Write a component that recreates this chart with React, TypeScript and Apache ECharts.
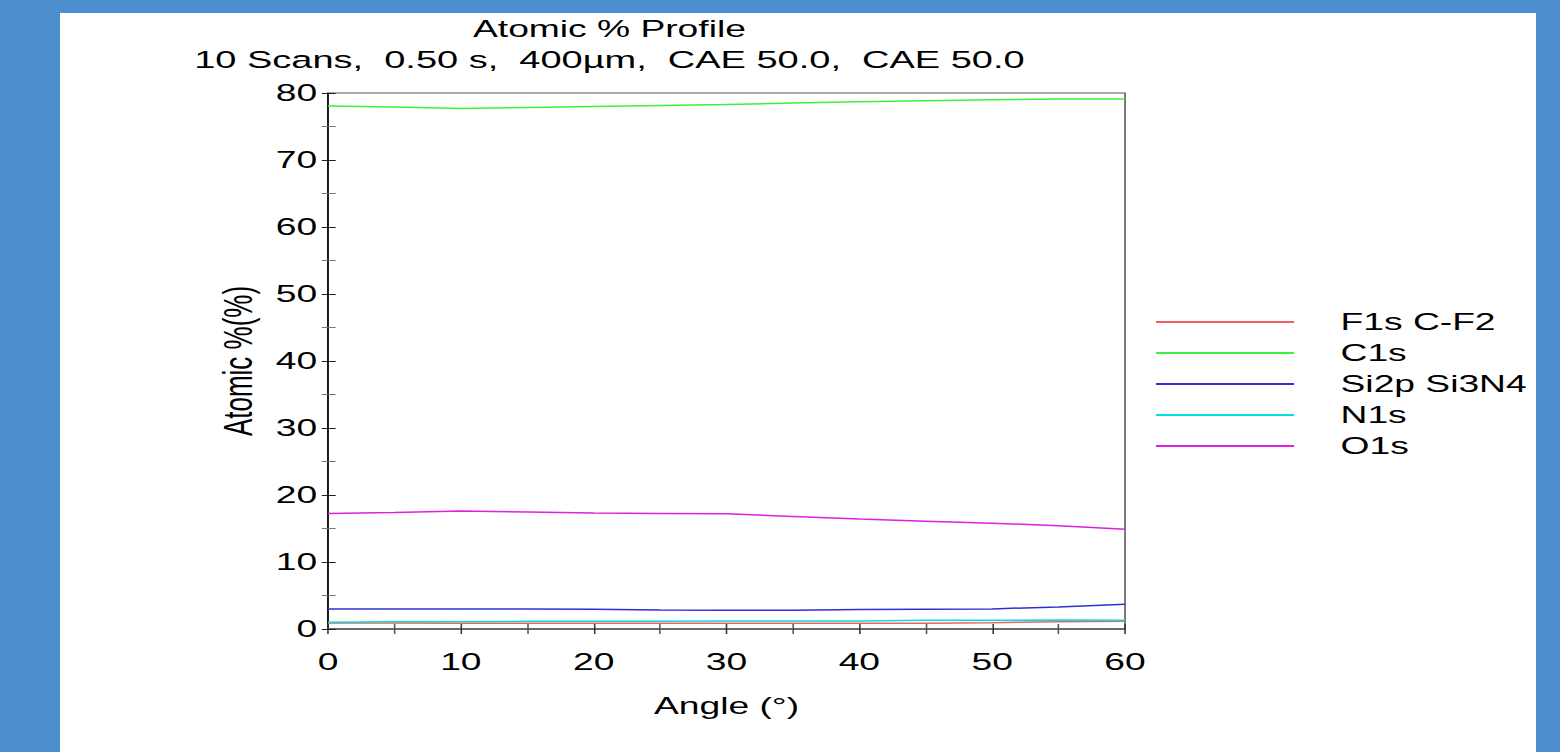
import React, { useEffect, useRef } from "react";
import * as echarts from "echarts";

const angles = [0, 5, 10, 15, 20, 25, 30, 35, 40, 45, 50, 55, 60];
const f1s = [0.9, 0.9, 0.85, 0.85, 0.85, 0.85, 0.85, 0.85, 0.85, 0.85, 0.95, 1.1, 1.15];
const c1s = [78.05, 77.9, 77.7, 77.85, 78.0, 78.15, 78.3, 78.5, 78.7, 78.85, 79.0, 79.1, 79.1];
const si2p = [3.0, 3.0, 3.0, 3.0, 2.95, 2.85, 2.8, 2.8, 2.9, 2.95, 3.0, 3.3, 3.7];
const n1s = [1.0, 1.1, 1.1, 1.15, 1.15, 1.15, 1.2, 1.2, 1.2, 1.3, 1.3, 1.35, 1.3];
const o1s = [17.25, 17.4, 17.6, 17.45, 17.3, 17.25, 17.2, 16.8, 16.4, 16.1, 15.8, 15.4, 14.9];

const seriesNames = ["F1s C-F2", "C1s", "Si2p Si3N4", "N1s", "O1s"];
const seriesValues = [f1s, c1s, si2p, n1s, o1s];
const seriesColors = ["#f06060", "#3cf03c", "#3030d0", "#00e0e0", "#e020e0"];

const titleText = "Atomic % Profile";
const subtitleText = "10 Scans,  0.50 s,  400µm,  CAE 50.0,  CAE 50.0";
const xName = "Angle (°)";
const yName = "Atomic %(%)";

const W = 1006;
const S = 1560 / W;
const FONT = "'Liberation Sans', Arial, sans-serif";

export default function App() {
  const ref = useRef<HTMLDivElement>(null);
  useEffect(() => {
    if (!ref.current) return;
    const chart = echarts.init(ref.current, undefined, { renderer: "svg" });
    const gridPos = { left: 211.5, right: 280.5, top: 93, bottom: 123 };
    const option: any = {
      animation: false,
      textStyle: { fontFamily: FONT, color: "#000" },
      title: [
        {
          text: titleText,
          left: 388,
          top: 12,
          textAlign: "center",
          textStyle: { fontFamily: FONT, fontSize: 24, fontWeight: "normal", color: "#000" },
        },
        {
          text: subtitleText,
          left: 388,
          top: 42,
          textAlign: "center",
          textStyle: { fontFamily: FONT, fontSize: 24.5, fontWeight: "normal", color: "#000" },
        },
      ],
      legend: {
        orient: "vertical",
        left: 739.5,
        top: 305,
        itemWidth: 89,
        itemHeight: 24,
        itemGap: 7,
        data: seriesNames,
        itemStyle: { opacity: 0 },
        textStyle: { fontFamily: FONT, fontSize: 24, color: "#000", padding: [0, 0, 0, 25] },
      },
      grid: [
        { ...gridPos, show: true, borderColor: "#555", borderWidth: 1, backgroundColor: "transparent" },
        { ...gridPos, show: false },
      ],
      xAxis: [
        {
          type: "value",
          gridIndex: 0,
          min: 0,
          max: 60,
          interval: 10,
          name: xName,
          nameLocation: "middle",
          nameGap: 65,
          nameTextStyle: { fontFamily: FONT, fontSize: 24, color: "#000" },
          axisLine: { show: true, lineStyle: { color: "#555", width: 1.5 } },
          axisTick: { show: true, inside: false, length: 5, lineStyle: { color: "#333" } },
          minorTick: { show: true, splitNumber: 2, length: 5, lineStyle: { color: "#555" } },
          axisLabel: { fontFamily: FONT, fontSize: 24, color: "#000", margin: 21 },
          splitLine: { show: false },
        },
        {
          type: "value",
          gridIndex: 1,
          min: 0,
          max: 60,
          interval: 10,
          axisLine: { show: false },
          axisTick: { show: true, inside: true, length: 5, lineStyle: { color: "#333" } },
          minorTick: { show: true, splitNumber: 2, length: 5, lineStyle: { color: "#555" } },
          axisLabel: { show: false },
          splitLine: { show: false },
        },
      ],
      yAxis: [
        {
          type: "value",
          gridIndex: 0,
          min: 0,
          max: 80,
          interval: 10,
          name: yName,
          nameLocation: "middle",
          nameGap: 45,
          nameTextStyle: { fontFamily: FONT, fontSize: 26, color: "#000" },
          axisLine: { show: true, lineStyle: { color: "#000", width: 1 } },
          axisTick: { show: true, inside: false, length: 4, lineStyle: { color: "#222" } },
          minorTick: { show: true, splitNumber: 2, length: 4, lineStyle: { color: "#777" } },
          axisLabel: { fontFamily: FONT, fontSize: 24, color: "#000", margin: 7 },
          splitLine: { show: false },
        },
        {
          type: "value",
          gridIndex: 1,
          min: 0,
          max: 80,
          interval: 10,
          axisLine: { show: false },
          axisTick: { show: true, inside: true, length: 5, lineStyle: { color: "#222" } },
          minorTick: { show: true, splitNumber: 2, length: 5, lineStyle: { color: "#777" } },
          axisLabel: { show: false },
          splitLine: { show: false },
        },
      ],
      series: seriesNames.map((name, i) => ({
        name,
        type: "line",
        xAxisIndex: 0,
        yAxisIndex: 0,
        symbol: "none",
        showSymbol: false,
        color: seriesColors[i],
        lineStyle: { color: seriesColors[i], width: 1.5 },
        data: angles.map((a, j) => [a, seriesValues[i][j]]),
      })),
    };
    chart.setOption(option);
    return () => chart.dispose();
  }, []);

  return (
    <div
      style={{
        position: "fixed",
        left: 0,
        top: 0,
        width: 1560,
        height: 752,
        background: "#4d8fce",
        overflow: "hidden",
      }}
    >
      <div
        style={{
          position: "absolute",
          left: 60,
          top: 13,
          width: 1476,
          height: 739,
          background: "#ffffff",
        }}
      />
      <div
        ref={ref}
        style={{
          position: "absolute",
          left: 0,
          top: 0,
          width: W,
          height: 752,
          transform: `scaleX(${S})`,
          transformOrigin: "0 0",
        }}
      />
    </div>
  );
}
